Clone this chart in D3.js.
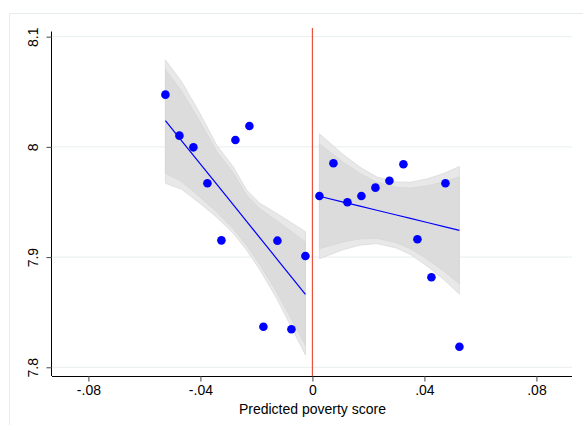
<!DOCTYPE html>
<html>
<head>
<meta charset="utf-8">
<script src="https://cdn.jsdelivr.net/npm/d3@7"></script>
<style>
  html, body { margin: 0; padding: 0; background: #ffffff; }
  svg { display: block; }
  text { font-family: "Liberation Sans", Arial, Helvetica, sans-serif; fill: #000; }
</style>
</head>
<body>
<svg id="chart" width="583" height="425"></svg>
<script>
// Binned means of the outcome by predicted poverty score, either side of the cutoff
const binXLeft  = [-0.0525, -0.0475, -0.0425, -0.0375, -0.0325, -0.0275, -0.0225, -0.0175, -0.0125, -0.0075, -0.0025];
const binYLeft  = [8.0474, 8.0102, 7.9996, 7.9670, 7.9152, 8.0063, 8.0190, 7.8368, 7.9149, 7.8345, 7.9010];
const binXRight = [0.0025, 0.0075, 0.0125, 0.0175, 0.0225, 0.0275, 0.0325, 0.0375, 0.0425, 0.0475, 0.0525];
const binYRight = [7.9554, 7.9851, 7.9497, 7.9554, 7.9630, 7.9693, 7.9842, 7.9162, 7.8817, 7.9670, 7.8187];

// Fitted line and confidence bands (outer 95%, inner 90%) on each side
const fitXLeft   = [-0.0525, -0.0467, -0.0402, -0.0342, -0.0283, -0.0235, -0.01875, -0.0128, -0.0025];
const fitYLeft   = [8.0238, 8.0055, 7.9850, 7.9661, 7.9475, 7.9324, 7.9174, 7.8987, 7.8662];
const ci95HiLeft = [8.0789, 8.0592, 8.0305, 8.0017, 7.9820, 7.9609, 7.9488, 7.9397, 7.9231];
const ci95LoLeft = [7.9670, 7.9615, 7.9488, 7.9362, 7.9216, 7.9064, 7.8883, 7.8626, 7.8112];
const ci90HiLeft = [8.0701, 8.0506, 8.0232, 7.9960, 7.9765, 7.9563, 7.9438, 7.9331, 7.9140];
const ci90LoLeft = [7.9761, 7.9685, 7.9546, 7.9410, 7.9257, 7.9106, 7.8930, 7.8684, 7.8200];

const fitXRight   = [0.0025, 0.011, 0.017, 0.023, 0.030, 0.035, 0.041, 0.047, 0.0525];
const fitYRight   = [7.9552, 7.9499, 7.9462, 7.9425, 7.9382, 7.9351, 7.9314, 7.9277, 7.9243];
const ci95HiRight = [8.0119, 7.9930, 7.9816, 7.9727, 7.9682, 7.9679, 7.9710, 7.9760, 7.9822];
const ci95LoRight = [7.8985, 7.9068, 7.9108, 7.9123, 7.9082, 7.9023, 7.8918, 7.8794, 7.8664];
const ci90HiRight = [8.0028, 7.9861, 7.9759, 7.9679, 7.9634, 7.9627, 7.9647, 7.9683, 7.9729];
const ci90LoRight = [7.9076, 7.9137, 7.9165, 7.9171, 7.9130, 7.9075, 7.8981, 7.8871, 7.8757];

const xTicks = [-0.08, -0.04, 0, 0.04, 0.08];
const xTickLabels = ["-.08", "-.04", "0", ".04", ".08"];
const yTicks = [7.8, 7.9, 8.0, 8.1];
const yTickLabels = ["7.8", "7.9", "8", "8.1"];
const cutoff = 0;
const xTitle = "Predicted poverty score";

const svg = d3.select("#chart");
const plot = { left: 52, right: 572, top: 31.5, bottom: 376 };

const x = d3.scaleLinear().domain([-0.0930, 0.0927]).range([plot.left, plot.right]);
const y = d3.scaleLinear().domain([7.7921, 8.1047]).range([plot.bottom, plot.top]);

// Light outer border of the graph region
svg.append("path")
  .attr("d", `M9.5,425 V13.5 H583`)
  .attr("fill", "none")
  .attr("stroke", "#e6ebeb")
  .attr("stroke-width", 1);

// Horizontal gridlines
svg.append("g").selectAll("line").data(yTicks).join("line")
  .attr("x1", plot.left).attr("x2", plot.right)
  .attr("y1", d => y(d)).attr("y2", d => y(d))
  .attr("stroke", "#e8eeef").attr("stroke-width", 1);

function drawSide(fx, fy, hi95, lo95, hi90, lo90) {
  const rows = fx.map((v, i) => ({ x: v, fit: fy[i], hi95: hi95[i], lo95: lo95[i], hi90: hi90[i], lo90: lo90[i] }));
  const area95 = d3.area().x(d => x(d.x)).y0(d => y(d.lo95)).y1(d => y(d.hi95));
  const area90 = d3.area().x(d => x(d.x)).y0(d => y(d.lo90)).y1(d => y(d.hi90));
  svg.append("path").datum(rows).attr("d", area95)
    .attr("fill", "#e8e8e8").attr("stroke", "#dadada").attr("stroke-width", 0.8)
    .attr("stroke-linejoin", "round");
  svg.append("path").datum(rows).attr("d", area90)
    .attr("fill", "#dcdcdc").attr("stroke", "#d4d4d4").attr("stroke-width", 0.6)
    .attr("stroke-linejoin", "round");
  return rows;
}

const rowsL = drawSide(fitXLeft, fitYLeft, ci95HiLeft, ci95LoLeft, ci90HiLeft, ci90LoLeft);
const rowsR = drawSide(fitXRight, fitYRight, ci95HiRight, ci95LoRight, ci90HiRight, ci90LoRight);

// Fitted lines
const fitLine = d3.line().x(d => x(d.x)).y(d => y(d.fit));
[rowsL, rowsR].forEach(rows => {
  svg.append("path").datum(rows).attr("d", fitLine)
    .attr("fill", "none").attr("stroke", "#0000ff").attr("stroke-width", 1.2);
});

// Cutoff
svg.append("line")
  .attr("x1", x(cutoff)).attr("x2", x(cutoff))
  .attr("y1", plot.top - 3.5).attr("y2", plot.bottom)
  .attr("stroke", "#e8523f").attr("stroke-width", 1.2);

// Binned means
const pts = binXLeft.map((v, i) => ({ x: v, y: binYLeft[i] }))
  .concat(binXRight.map((v, i) => ({ x: v, y: binYRight[i] })));
svg.append("g").selectAll("circle").data(pts).join("circle")
  .attr("cx", d => x(d.x)).attr("cy", d => y(d.y)).attr("r", 4.3)
  .attr("fill", "#0000ff");

// Axes
const xAxis = d3.axisBottom(x).tickValues(xTicks)
  .tickFormat((d, i) => xTickLabels[i]).tickSizeOuter(0).tickSizeInner(5.5).tickPadding(4);
const gx = svg.append("g").attr("transform", `translate(0,${plot.bottom})`).call(xAxis);
gx.select(".domain").attr("stroke", "#000").attr("stroke-width", 1)
  .attr("d", `M${plot.left},0.5H${plot.right}`);
gx.selectAll(".tick line").attr("stroke", "#444");
gx.selectAll(".tick text").attr("font-size", 14)
  .attr("font-family", "Liberation Sans, Arial, sans-serif").attr("fill", "#000");

const yAxis = d3.axisLeft(y).tickValues(yTicks)
  .tickFormat((d, i) => yTickLabels[i]).tickSizeOuter(0).tickSizeInner(5.5).tickPadding(0);
const gy = svg.append("g").attr("transform", `translate(${plot.left},0)`).call(yAxis);
gy.select(".domain").attr("stroke", "#000").attr("stroke-width", 1)
  .attr("d", `M-0.5,${plot.top}V${plot.bottom}`);
gy.selectAll(".tick line").attr("stroke", "#444");
gy.selectAll(".tick text")
  .attr("font-size", 14)
  .attr("font-family", "Liberation Sans, Arial, sans-serif")
  .attr("fill", "#000")
  .attr("x", null).attr("dy", null)
  .attr("text-anchor", "middle")
  .attr("transform", "translate(-14.5,0) rotate(-90)");

// Axis title
svg.append("text")
  .attr("x", x(0)).attr("y", 414)
  .attr("text-anchor", "middle")
  .attr("font-size", 14)
  .text(xTitle);
</script>
</body>
</html>
